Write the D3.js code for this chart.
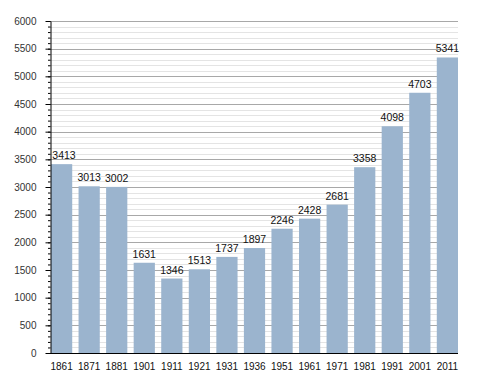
<!DOCTYPE html>
<html>
<head>
<meta charset="utf-8">
<script src="https://cdn.jsdelivr.net/npm/d3@7"></script>
<style>
  body { margin: 0; background: #fff; }
  text { font-family: "Liberation Sans", Arial, sans-serif; }
</style>
</head>
<body>
<div id="chart"></div>
<script>
// census years and population
const years = ['1861', '1871', '1881', '1901', '1911', '1921', '1931', '1936', '1951', '1961', '1971', '1981', '1991', '2001', '2011'];
const population = [3413, 3013, 3002, 1631, 1346, 1513, 1737, 1897, 2246, 2428, 2681, 3358, 4098, 4703, 5341];
const majorTicks = [0, 500, 1000, 1500, 2000, 2500, 3000, 3500, 4000, 4500, 5000, 5500, 6000];
const minorTicks = d3.range(0, 6001, 100);

const width = 488, height = 373;
const plotLeft = 50, plotRight = 458, plotTop = 21, plotBottom = 353;

const svg = d3.select('#chart').append('svg')
    .attr('width', width)
    .attr('height', height);

const x = d3.scaleBand()
    .domain(years)
    .range([plotLeft + 1, plotRight])
    .paddingInner(0.23)
    .paddingOuter(0);

const y = d3.scaleLinear()
    .domain([0, 6000])
    .range([plotBottom, plotTop]);

// grid lines, minor first then major
svg.append('g').selectAll('line')
    .data(minorTicks.filter(d => d % 500 !== 0))
    .join('line')
    .attr('x1', plotLeft).attr('x2', plotRight)
    .attr('y1', d => Math.round(y(d)) + 0.5)
    .attr('y2', d => Math.round(y(d)) + 0.5)
    .attr('stroke', '#e4e4e4');

svg.append('g').selectAll('line')
    .data(majorTicks.filter(d => d > 0))
    .join('line')
    .attr('x1', plotLeft).attr('x2', plotRight)
    .attr('y1', d => Math.round(y(d)) + 0.5)
    .attr('y2', d => Math.round(y(d)) + 0.5)
    .attr('stroke', '#a8a8a8');

// bars
svg.append('g').selectAll('rect')
    .data(population)
    .join('rect')
    .attr('x', (d, i) => x(years[i]))
    .attr('width', x.bandwidth())
    .attr('y', d => y(d))
    .attr('height', d => y(0) - y(d))
    .attr('fill', '#9bb4ce');

// value labels (kept clear of the y axis)
svg.append('g').selectAll('text')
    .data(population)
    .join('text')
    .attr('x', (d, i) => Math.max(x(years[i]) + x.bandwidth() / 2, plotLeft + 14))
    .attr('y', d => y(d) - 5)
    .attr('text-anchor', 'middle')
    .attr('font-size', 10.5)
    .attr('fill', '#111')
    .text(d => d);

// y axis with minor ticks
svg.append('g')
    .attr('transform', `translate(${plotLeft + 0.5},0)`)
    .call(d3.axisLeft(y).tickValues(minorTicks).tickSize(2.5).tickFormat(''))
    .call(g => g.select('.domain').remove())
    .call(g => g.selectAll('line').attr('stroke', '#000'));

const yAxis = svg.append('g')
    .attr('transform', `translate(${plotLeft + 0.5},0)`)
    .call(d3.axisLeft(y).tickValues(majorTicks).tickFormat(d3.format('d'))
        .tickSize(5).tickPadding(9).tickSizeOuter(0));
yAxis.select('.domain').attr('stroke', '#000');
yAxis.selectAll('text')
    .attr('font-size', 10)
    .attr('fill', '#333')
    .style('font-family', '"Liberation Sans", Arial, sans-serif');

// x axis
const xAxis = svg.append('g')
    .attr('transform', `translate(0,${plotBottom + 0.5})`)
    .call(d3.axisBottom(x).tickSize(0).tickPadding(9));
xAxis.select('.domain').attr('d', `M${plotLeft},0H${plotRight}`).attr('stroke', '#000');
xAxis.selectAll('text')
    .attr('font-size', 10)
    .attr('fill', '#111')
    .style('font-family', '"Liberation Sans", Arial, sans-serif');
</script>
</body>
</html>
